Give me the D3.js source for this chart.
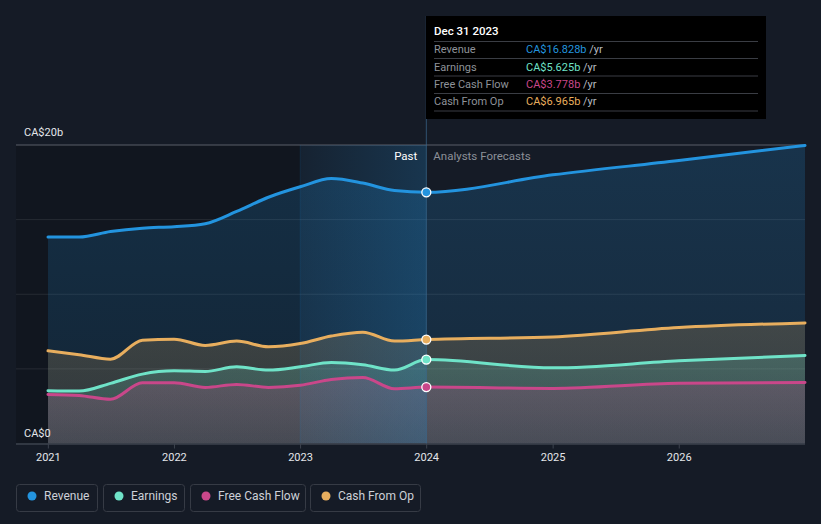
<!DOCTYPE html>
<html><head><meta charset="utf-8">
<script src="https://cdn.jsdelivr.net/npm/d3@7"></script>
<style>
html,body{margin:0;padding:0;background:#151b26;}
svg{display:block;font-family:Roboto,"Open Sans",sans-serif;}
</style></head>
<body><svg id="c" width="821" height="524"></svg>
<script>
// ---- data ----
const pastDates = ["2020-12-31","2021-03-31","2021-06-30","2021-09-30","2021-12-31","2022-03-31","2022-06-30","2022-09-30","2022-12-31","2023-03-31","2023-06-30","2023-09-30","2023-12-31"];
const forecastDates = ["2023-12-31","2024-12-31","2025-12-31","2026-12-31"];
const revenuePast = [13.83,13.83,14.2,14.43,14.53,14.73,15.55,16.5,17.2,17.75,17.45,16.95,16.828];
const earningsPast = [3.53,3.51,4.03,4.65,4.87,4.83,5.14,4.92,5.14,5.43,5.28,4.92,5.625];
const fcfPast = [3.29,3.22,2.96,4.07,4.07,3.76,3.96,3.76,3.9,4.29,4.43,3.67,3.778];
const cfoPast = [6.21,5.95,5.65,6.92,6.99,6.57,6.86,6.48,6.70,7.2,7.46,6.86,6.965];
const revenueFc = [16.828,18.0,18.96,19.97];
const earningsFc = [5.625,5.07,5.54,5.90];
const fcfFc = [3.778,3.69,4.03,4.09];
const cfoFc = [6.965,7.14,7.77,8.08];
const yearTicks = [2021,2022,2023,2024,2025,2026];
const seriesNames = ["Revenue","Earnings","Free Cash Flow","Cash From Op"];
const seriesColors = ["#2394df","#6fe3c8","#c9478a","#e8ae5e"];
const tooltipValues = ["CA$16.828b","CA$5.625b","CA$3.778b","CA$6.965b"];
const yLabels = ["CA$0","CA$20b"];

// ---- chart ----
const svg = d3.select("#c");
const parse = d3.timeParse("%Y-%m-%d");
const x = d3.scaleTime().domain([parse("2020-12-31"), parse("2026-12-31")]).range([48, 805]);
const y = d3.scaleLinear().domain([0, 20]).range([443.5, 145]);
const pLeft = 16, pRight = 805, pTop = y(20), pBottom = y(0);
const pastStart = parse("2022-12-31"), now = parse("2023-12-31");

const defs = svg.append("defs");
const bandG = defs.append("linearGradient").attr("id","band").attr("x1",0).attr("x2",1).attr("y1",0).attr("y2",0);
bandG.append("stop").attr("offset","0%").attr("stop-color","#2394df").attr("stop-opacity",0.06);
bandG.append("stop").attr("offset","100%").attr("stop-color","#2394df").attr("stop-opacity",0.22);

seriesColors.forEach((c,i)=>{
  const g = defs.append("linearGradient").attr("id","ag"+i).attr("x1",0).attr("x2",0).attr("y1",0).attr("y2",1);
  g.append("stop").attr("offset","0%").attr("stop-color",c).attr("stop-opacity",0.2);
  g.append("stop").attr("offset","100%").attr("stop-color",c).attr("stop-opacity",0.12);
});

// dark past region
svg.append("rect").attr("x",pLeft).attr("y",pTop).attr("width",x(pastStart)-pLeft).attr("height",pBottom-pTop)
  .attr("fill","#0e1118").attr("opacity",0.45);

// grid
[5,10,15].forEach(v=>{
  svg.append("line").attr("x1",pLeft).attr("x2",pRight).attr("y1",y(v)).attr("y2",y(v))
    .attr("stroke","#ffffff").attr("stroke-opacity",0.09).attr("stroke-width",1);
});
svg.append("line").attr("x1",pLeft).attr("x2",pRight).attr("y1",y(20)).attr("y2",y(20))
  .attr("stroke","#5a5f69").attr("stroke-width",1);

const pastSeries = [revenuePast, earningsPast, fcfPast, cfoPast];
const fcSeries = [revenueFc, earningsFc, fcfFc, cfoFc];
const order = [0,3,1,2];

function build(i){
  return pastDates.map((d,k)=>({d:parse(d), v:pastSeries[i][k]}))
    .concat(forecastDates.slice(1).map((d,k)=>({d:parse(d), v:fcSeries[i][k+1]})));
}
const area = d3.area().x(p=>x(p.d)).y0(y(0)).y1(p=>y(p.v)).curve(d3.curveMonotoneX);
const line = d3.line().x(p=>x(p.d)).y(p=>y(p.v)).curve(d3.curveMonotoneX);

order.forEach(i=>{
  svg.append("path").attr("d",area(build(i))).attr("fill","url(#ag"+i+")");
});

// past band
svg.append("rect").attr("x",x(pastStart)).attr("y",pTop).attr("width",x(now)-x(pastStart)).attr("height",pBottom-pTop)
  .attr("fill","url(#band)");
svg.append("line").attr("x1",x(pastStart)).attr("x2",x(pastStart)).attr("y1",pTop).attr("y2",pBottom)
  .attr("stroke","#2394df").attr("stroke-opacity",0.12);

order.forEach(i=>{
  svg.append("path").attr("d",line(build(i))).attr("fill","none").attr("stroke",seriesColors[i])
    .attr("stroke-width",3).attr("stroke-linecap","round");
});

// axis
svg.append("line").attr("x1",pLeft).attr("x2",pRight).attr("y1",pBottom+0.5).attr("y2",pBottom+0.5)
  .attr("stroke","#3d434e").attr("stroke-width",1.5);
const xAxis = svg.append("g");
yearTicks.forEach(t=>{
  const xx = x(new Date(t,0,1));
  xAxis.append("line").attr("x1",xx).attr("x2",xx).attr("y1",pBottom).attr("y2",pBottom+5).attr("stroke","#3d434e");
  xAxis.append("text").attr("x",xx).attr("y",461).attr("text-anchor","middle")
    .attr("fill","#e4e6ea").attr("font-size",11).text(t);
});
svg.append("text").attr("x",24).attr("y",437).attr("fill","#e4e6ea").attr("font-size",11).text(yLabels[0]);
svg.append("text").attr("x",24).attr("y",136).attr("fill","#e4e6ea").attr("font-size",11).text(yLabels[1]);

svg.append("text").attr("x",x(now)-9).attr("y",160).attr("text-anchor","end").attr("fill","#ffffff").attr("font-size",11.5).text("Past");
svg.append("text").attr("x",x(now)+7).attr("y",160).attr("fill","#8c9098").attr("font-size",11.5).text("Analysts Forecasts");

// hover line
svg.append("line").attr("x1",x(now)).attr("x2",x(now)).attr("y1",16).attr("y2",pBottom)
  .attr("stroke","#3a6a90").attr("stroke-opacity",0.7).attr("stroke-width",1);

// dots
order.forEach(i=>{
  svg.append("circle").attr("cx",x(now)).attr("cy",y(pastSeries[i][12])).attr("r",4.5)
    .attr("fill",seriesColors[i]).attr("stroke","#ffffff").attr("stroke-width",1.3);
});

// tooltip
const tt = svg.append("g");
tt.append("rect").attr("x",426).attr("y",16).attr("width",340).attr("height",103).attr("fill","#000000");
tt.append("text").attr("x",434).attr("y",35).attr("fill","#ffffff").attr("font-size",11.5).attr("font-weight",500).text("Dec 31 2023");
const rowY = [53,70.5,88,105];
const sepY = [41.5,58.5,76,93.5,111];
sepY.forEach(s=>tt.append("line").attr("x1",434).attr("x2",758).attr("y1",s).attr("y2",s).attr("stroke","#3a3d44").attr("stroke-width",1));
seriesNames.forEach((n,i)=>{
  tt.append("text").attr("x",434).attr("y",rowY[i]).attr("fill","#8e9299").attr("font-size",11).text(n);
  const t = tt.append("text").attr("x",526).attr("y",rowY[i]).attr("font-size",11);
  t.append("tspan").attr("fill",seriesColors[i]).text(tooltipValues[i]);
  t.append("tspan").attr("fill","#b8bcc2").text(" /yr");
});

// legend
const legX = [16,103,190,310], legW = [81,81,115,110];
seriesNames.forEach((n,i)=>{
  const g = svg.append("g");
  g.append("rect").attr("x",legX[i]+0.5).attr("y",484.5).attr("width",legW[i]).attr("height",27).attr("rx",3)
    .attr("fill","none").attr("stroke","#363b45").attr("stroke-width",1);
  g.append("circle").attr("cx",legX[i]+16).attr("cy",496).attr("r",4.5).attr("fill",seriesColors[i]);
  g.append("text").attr("x",legX[i]+28).attr("y",500).attr("fill","#cdd1d8").attr("font-size",12).text(n);
});
</script></body></html>
